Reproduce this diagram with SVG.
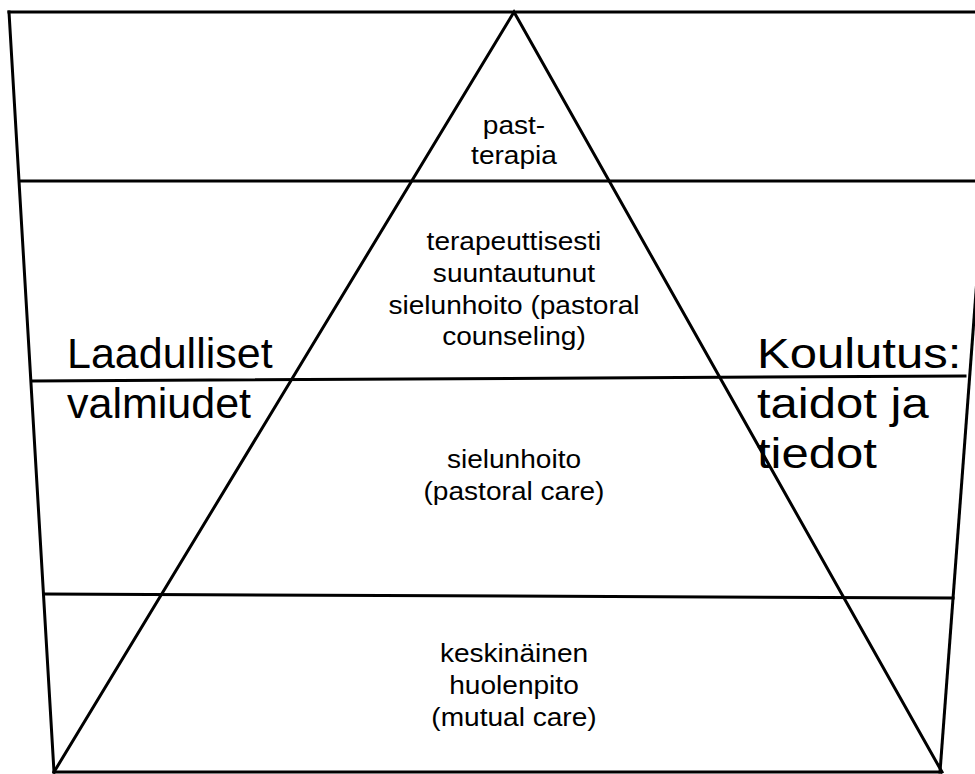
<svg xmlns="http://www.w3.org/2000/svg" width="975" height="774" viewBox="0 0 975 774">
<style>
.ln{stroke:#000;stroke-width:3;fill:none;stroke-linecap:square}
.t{font-family:"Liberation Sans",Arial,sans-serif;font-size:26px;fill:#000;text-anchor:middle}
.big{font-family:"Liberation Sans",Arial,sans-serif;font-size:43px;fill:#000}
</style>
<rect width="975" height="774" fill="#fff"/>
<g id="connectors">
<line class="ln" x1="9" y1="12" x2="980" y2="12"/>
<line class="ln" x1="9" y1="12" x2="54" y2="772"/>
<line class="ln" x1="997" y1="12" x2="940" y2="772"/>
<line class="ln" x1="20" y1="181" x2="980" y2="181"/>
<line class="ln" x1="32" y1="381" x2="965" y2="376"/>
<line class="ln" x1="44" y1="594" x2="953" y2="598"/>
<line class="ln" x1="54" y1="772" x2="940" y2="772"/>
<polyline class="ln" points="54,772 514,12 942,772"/>
</g>
<g id="level1" transform="translate(514 0) scale(1.08 1) translate(-514 0)"><text class="t" x="514" y="134">past-</text><text class="t" x="514" y="164">terapia</text></g>
<g id="level2" transform="translate(514 0) scale(1.08 1) translate(-514 0)"><text class="t" x="514" y="250">terapeuttisesti</text><text class="t" x="514" y="282">suuntautunut</text><text class="t" x="514" y="314">sielunhoito (pastoral</text><text class="t" x="514" y="345">counseling)</text></g>
<g id="level3" transform="translate(514 0) scale(1.08 1) translate(-514 0)"><text class="t" x="514" y="468">sielunhoito</text><text class="t" x="514" y="500">(pastoral care)</text></g>
<g id="level4" transform="translate(514 0) scale(1.08 1) translate(-514 0)"><text class="t" x="514" y="662">keskinäinen</text><text class="t" x="514" y="694">huolenpito</text><text class="t" x="514" y="726">(mutual care)</text></g>
<g id="left"><text class="big" x="67" y="368">Laadulliset</text><text class="big" x="67" y="418">valmiudet</text></g>
<g id="right" transform="translate(757 0) scale(1.14 1) translate(-757 0)"><text class="big" x="757" y="368">Koulutus:</text><text class="big" x="757" y="418">taidot ja</text><text class="big" x="757" y="468">tiedot</text></g>
</svg>
